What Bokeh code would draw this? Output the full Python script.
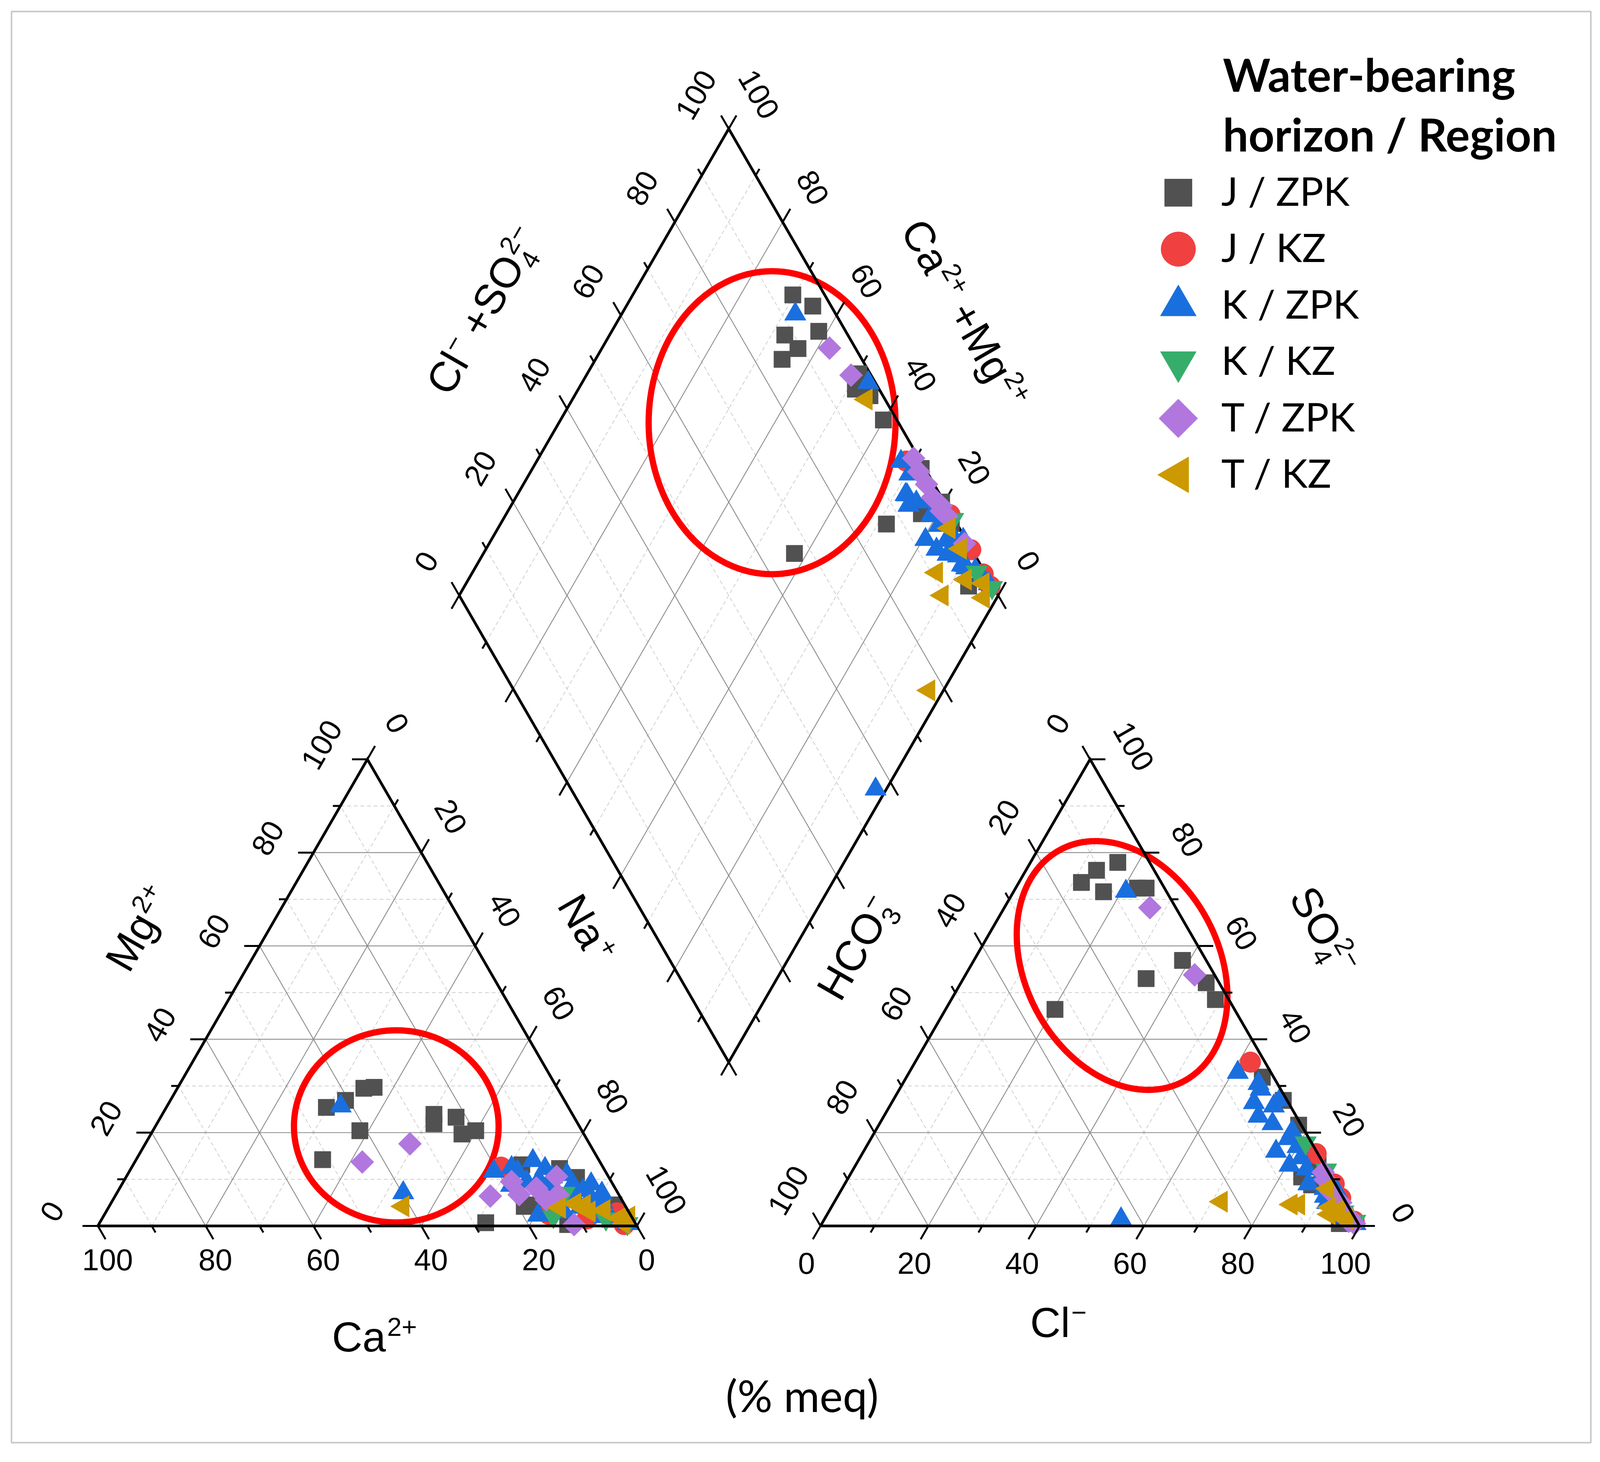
import math
from bokeh.plotting import figure
from bokeh.models import ColumnDataSource, Range1d
from bokeh.embed import file_html
from bokeh.resources import INLINE
from bokeh.core.properties import value

# ---------------- sample compositions (% meq) ----------------
# J / ZPK
JZPK_ca = [44.9, 35.9, 40.6, 41.2, 51.2, 33.9, 26.7, 21.9, 19.7, 22.6, 27.7, 25.7, 14.8, 8.2, 6.0, 18.8, 2.0, 12.7, 16.5]
JZPK_mg = [25.4, 29.5, 26.9, 20.4, 14.2, 29.7, 21.9, 23.3, 20.4, 19.7, 0.7, 23.9, 13.1, 12.3, 10.4, 4.2, 4.5, 0.3, 4.5]
JZPK_na = [29.7, 34.6, 32.5, 38.4, 34.6, 36.4, 51.4, 54.8, 59.9, 57.7, 71.6, 50.4, 72.1, 79.5, 83.6, 77.0, 93.5, 87.0, 79.0]
JZPK_hco3 = [5.9, 3.4, 11.7, 5.0, 14.8, 10.7, 4.4, 2.4, 2.5, 33.3, 13.1, 2.1, 0.7, 0.5, 1.0, 5.5, 4.5, 3.5, 2.0]
JZPK_cl = [16.2, 24.2, 16.7, 22.6, 11.6, 13.1, 38.7, 45.5, 49.0, 20.3, 33.9, 66.0, 72.4, 77.9, 85.6, 84.0, 86.7, 96.0, 95.0]
JZPK_so4 = [77.9, 72.4, 71.6, 72.4, 73.6, 76.2, 56.9, 52.1, 48.5, 46.4, 53.0, 31.9, 26.9, 21.6, 13.4, 10.5, 8.8, 0.5, 3.0]
# J / KZ
JKZ_ca = [18.9, 15.1, 2.3, 2.2, 8.5]
JKZ_mg = [12.6, 2.5, 2.8, 0.3, 1.5]
JKZ_na = [68.5, 82.4, 94.9, 97.5, 90.0]
JKZ_hco3 = [2.7, 0.3, 0.5, 0.5, 0.2]
JKZ_cl = [62.2, 84.2, 93.5, 98.5, 90.8]
JKZ_so4 = [35.1, 15.5, 6.0, 1.0, 9.0]
# K / ZPK
KZPK_ca = [42.1, 39.8, 20.7, 17.0, 16.3, 19.0, 12.3, 15.7, 10.9, 13.3, 10.5, 12.0, 17.2, 7.5, 7.45, 9.0, 12.0, 6.2, 4.0, 8.5, 5.5, 3.0, 5.9, 3.8, 5.0, 4.0, 1.5, 1.5]
KZPK_mg = [25.7, 7.1, 11.7, 12.5, 11.7, 8.7, 14.0, 9.5, 12.3, 9.8, 10.5, 8.1, 2.3, 11.0, 8.95, 6.5, 3.0, 7.6, 9.0, 4.0, 6.2, 7.0, 3.4, 5.1, 2.0, 1.0, 1.5, 0.5]
KZPK_na = [32.2, 53.1, 67.6, 70.5, 72.0, 72.3, 73.7, 74.8, 76.8, 76.9, 79.0, 79.9, 80.5, 81.5, 83.6, 84.5, 85.0, 86.2, 87.0, 87.5, 88.3, 90.0, 90.7, 91.1, 93.0, 95.0, 97.0, 98.0]
KZPK_hco3 = [7.5, 1.3, 3.7, 3.5, 6.4, 6.15, 7.0, 5.2, 3.05, 2.4, 3.85, 3.0, 7.5, 3.5, 6.5, 3.7, 2.05, 5.0, 2.5, 0.5, 3.25, 3.5, 2.9, 3.0, 1.5, 1.0, 0.5, 43.5]
KZPK_cl = [20.8, 71.7, 67.0, 66.0, 67.2, 60.95, 69.5, 72.9, 71.25, 77.4, 77.45, 80.0, 76.5, 81.9, 80.5, 84.1, 87.45, 86.0, 89.5, 92.2, 90.4, 91.5, 93.1, 94.0, 96.5, 98.0, 99.0, 55.0]
KZPK_so4 = [71.7, 27.0, 29.3, 30.5, 26.4, 32.9, 23.5, 21.9, 25.7, 20.2, 18.7, 17.0, 16.0, 14.6, 13.0, 12.2, 10.5, 9.0, 8.0, 7.3, 6.35, 5.0, 4.0, 3.0, 2.0, 1.0, 0.5, 1.5]
# K / KZ
KKZ_ca = [9.9, 14.5, 5.0, 1.5]
KKZ_mg = [7.0, 2.0, 1.5, 0.5]
KKZ_na = [83.1, 83.5, 93.5, 98.0]
KKZ_hco3 = [1.1, 0.2, 1.5, 0.3]
KKZ_cl = [81.1, 87.8, 95.5, 98.7]
KKZ_so4 = [17.8, 12.0, 3.0, 1.0]
# T / ZPK
TZPK_ca = [33.3, 44.1, 24.0, 18.5, 14.6, 9.6, 14.0, 11.3, 11.5, 18.5]
TZPK_mg = [17.6, 13.7, 6.4, 6.7, 8.1, 10.6, 5.6, 6.7, 0.3, 9.5]
TZPK_na = [49.1, 42.2, 69.6, 74.8, 77.3, 79.8, 80.4, 82.0, 88.2, 72.0]
TZPK_hco3 = [3.7, 4.8, 1.0, 1.4, 1.7, 1.0, 1.5, 1.0, 0.7, 1.5]
TZPK_cl = [42.5, 27.0, 87.5, 88.7, 90.9, 94.0, 95.0, 97.0, 98.8, 97.5]
TZPK_so4 = [53.8, 68.2, 11.5, 9.9, 7.4, 5.0, 3.5, 2.0, 0.5, 1.0]
# T / KZ
TKZ_ca = [41.3, 2.2, 9.1, 7.3, 4.4, 0.5, 12.4, 2.4, 7.5]
TKZ_mg = [4.2, 0.5, 4.8, 3.1, 3.4, 2.0, 3.9, 1.7, 4.5]
TKZ_na = [54.5, 97.3, 86.1, 89.6, 92.2, 97.5, 83.7, 95.9, 88.0]
TKZ_hco3 = [3.5, 23.05, 9.0, 10.4, 4.4, 3.0, 1.9, 1.5, 2.0]
TKZ_cl = [92.5, 71.75, 86.4, 85.0, 93.1, 94.5, 90.1, 97.0, 94.5]
TKZ_so4 = [4.0, 5.2, 4.6, 4.6, 2.5, 2.5, 8.0, 1.5, 3.5]

GROUP_LABELS = ["J / ZPK", "J / KZ", "K / ZPK", "K / KZ", "T / ZPK", "T / KZ"]
TICK_VALUES = list(range(0, 101, 10))
LABEL_VALUES = list(range(0, 101, 20))

# ---------------- geometry ----------------
H = math.sqrt(3) / 2
PX = 13.8                 # screen px per % unit
GAP = 34.06               # gap between the two triangles
XR0 = 100 + GAP           # origin of the anion triangle
XC = 100 + GAP / 2        # diamond centre x
YB = 30.4                 # diamond bottom vertex y

W, HT = 4096, 3720
BL, BT, BR_, BB = 29, 29, W - 4072, HT - 3694
ox, oy = 250, 3139        # figure pixel of cation-triangle bottom-left vertex
x0 = -(ox - BL) / PX
x1 = x0 + (W - BL - BR_) / PX
y0 = -((HT - BB) - oy) / PX
y1 = y0 + (HT - BT - BB) / PX


def page(X, Y):
    """reference page pixel -> data units"""
    return (X - 8 - ox) / PX, (oy - (Y - 8)) / PX


def cat_xy(ca, mg, na):
    t = ca + mg + na
    mg, na = 100 * mg / t, 100 * na / t
    return na + mg / 2, mg * H


def an_xy(hco3, cl, so4):
    t = hco3 + cl + so4
    cl, so4 = 100 * cl / t, 100 * so4 / t
    return XR0 + cl + so4 / 2, so4 * H


def dia_xy(na_pct, clso4_pct):
    cm = 100 - na_pct
    return XC + 0.5 * (clso4_pct - cm), YB + H * (clso4_pct + cm)


p = figure(width=W, height=HT, output_backend="svg", toolbar_location=None,
           x_range=Range1d(x0, x1), y_range=Range1d(y0, y1),
           x_axis_location=None, y_axis_location=None, title=None,
           min_border_left=BL, min_border_right=BR_, min_border_top=BT, min_border_bottom=BB)
p.grid.visible = False
p.outline_line_color = "#c8c8c8"
p.outline_line_width = 4
p.background_fill_color = "white"
p.border_fill_color = "white"

# ---------------- grid ----------------
sxs, sys_, dxs, dys = [], [], [], []


def gline(a, b, v):
    if v % 20 == 0:
        sxs.append([a[0], b[0]]); sys_.append([a[1], b[1]])
    else:
        dxs.append([a[0], b[0]]); dys.append([a[1], b[1]])


for v in range(10, 100, 10):
    gline(cat_xy(100 - v, v, 0), cat_xy(0, v, 100 - v), v)
    gline(cat_xy(100 - v, 0, v), cat_xy(0, 100 - v, v), v)
    gline(cat_xy(v, 0, 100 - v), cat_xy(v, 100 - v, 0), v)
    gline(an_xy(100 - v, 0, v), an_xy(0, 100 - v, v), v)
    gline(an_xy(100 - v, v, 0), an_xy(0, v, 100 - v), v)
    gline(an_xy(v, 100 - v, 0), an_xy(v, 0, 100 - v), v)
    gline(dia_xy(100 - v, 0), dia_xy(100 - v, 100), v)
    gline(dia_xy(0, v), dia_xy(100, v), v)

p.multi_line(dxs, dys, line_color="#cfcfcf", line_width=2, line_dash="10 7")
p.multi_line(sxs, sys_, line_color="#8a8a8a", line_width=2.2)

# ---------------- red highlight ellipses ----------------
ex, ey = page(1022, 2892)
p.ellipse(x=[ex], y=[ey], width=2 * 262 / PX, height=2 * 246 / PX, fill_color=None,
          line_color="#ff0000", line_width=16)
ex, ey = page(1984, 1090)
p.ellipse(x=[ex], y=[ey], width=2 * 316 / PX, height=2 * 388 / PX, fill_color=None,
          line_color="#ff0000", line_width=16)
ex, ey = page(2880, 2480)
p.ellipse(x=[ex], y=[ey], width=2 * 336 / PX, height=2 * 248 / PX, angle=math.radians(-62),
          fill_color=None, line_color="#ff0000", line_width=16)

# ---------------- ticks & tick labels ----------------
MAJ, MIN = 2.85, 1.4
LAB_DY = 0.6
tri_t = {"xs": [], "ys": []}
dia_t = {"xs": [], "ys": []}
labels = {"x": [], "y": [], "t": [], "a": []}


def ticks(store, fn, d, off=None, ang=0.0):
    for v in TICK_VALUES:
        x, y = fn(v)
        L = MAJ if v % 20 == 0 else MIN
        store["xs"].append([x, x + L * d[0]])
        store["ys"].append([y, y + L * d[1]])
        if off is not None and v in LABEL_VALUES:
            labels["x"].append(x + off[0]); labels["y"].append(y + off[1] + LAB_DY)
            labels["t"].append(str(v)); labels["a"].append(ang)


A60 = math.radians(60)
# cation triangle
ticks(tri_t, lambda v: cat_xy(v, 0, 100 - v), (0.5, -H), (1.8, -6.9), 0.0)
ticks(tri_t, lambda v: cat_xy(100 - v, v, 0), (-1, 0), (-8.5, 2.1), A60)
ticks(tri_t, lambda v: cat_xy(0, 100 - v, v), (0.5, H), (5.5, 6.1), -A60)
# anion triangle
ticks(tri_t, lambda v: an_xy(100 - v, v, 0), (-0.5, -H), (-2.6, -7.5), 0.0)
ticks(tri_t, lambda v: an_xy(v, 0, 100 - v), (-0.5, H), (-6.0, 6.0), A60)
ticks(tri_t, lambda v: an_xy(0, 100 - v, v), (1, 0), (8.1, 1.8), -A60)
# diamond
ticks(dia_t, lambda v: dia_xy(0, v), (-0.5, H), (-6.1, 5.7), A60)
ticks(dia_t, lambda v: dia_xy(100 - v, 100), (0.5, H), (5.6, 5.8), -A60)
ticks(dia_t, lambda v: dia_xy(100 - v, 0), (-0.5, -H))
ticks(dia_t, lambda v: dia_xy(100, v), (0.5, -H))

AX = dict(line_color="black", line_width=7, line_join="miter")
# diamond frame (under markers)
dpts = [dia_xy(0, 0), dia_xy(0, 100), dia_xy(100, 100), dia_xy(100, 0), dia_xy(0, 0)]
p.multi_line(dia_t["xs"], dia_t["ys"], line_color="black", line_width=5)
p.line([q[0] for q in dpts], [q[1] for q in dpts], **AX)

# ---------------- samples ----------------
GROUPS = [
    (JZPK_ca, JZPK_mg, JZPK_na, JZPK_hco3, JZPK_cl, JZPK_so4),
    (JKZ_ca, JKZ_mg, JKZ_na, JKZ_hco3, JKZ_cl, JKZ_so4),
    (KZPK_ca, KZPK_mg, KZPK_na, KZPK_hco3, KZPK_cl, KZPK_so4),
    (KKZ_ca, KKZ_mg, KKZ_na, KKZ_hco3, KKZ_cl, KKZ_so4),
    (TZPK_ca, TZPK_mg, TZPK_na, TZPK_hco3, TZPK_cl, TZPK_so4),
    (TKZ_ca, TKZ_mg, TKZ_na, TKZ_hco3, TKZ_cl, TKZ_so4),
]
STYLES = [
    dict(marker="square", color="#515151", size=42, angle=0.0),
    dict(marker="circle", color="#F14040", size=53, angle=0.0),
    dict(marker="triangle", color="#1A6FDF", size=55, angle=0.0),
    dict(marker="inverted_triangle", color="#37AD6B", size=55, angle=0.0),
    dict(marker="square", color="#B177DE", size=42, angle=math.pi / 4),
    dict(marker="triangle", color="#CC9900", size=55, angle=math.pi / 2),
]

for (ca, mg, na, hc, cl, so), st in zip(GROUPS, STYLES):
    xs, ys = [], []
    for i in range(len(ca)):
        a = cat_xy(ca[i], mg[i], na[i])
        b = an_xy(hc[i], cl[i], so[i])
        na_pct = 100 * na[i] / (ca[i] + mg[i] + na[i])
        clso4 = 100 * (cl[i] + so[i]) / (hc[i] + cl[i] + so[i])
        c = dia_xy(na_pct, clso4)
        for q in (a, b, c):
            xs.append(q[0]); ys.append(q[1])
    src = ColumnDataSource(dict(x=xs, y=ys))
    p.scatter("x", "y", source=src, marker=st["marker"], size=st["size"], angle=st["angle"],
              fill_color=st["color"], line_color=st["color"], line_width=1)

# ---------------- triangle frames (over markers) ----------------
p.multi_line(tri_t["xs"], tri_t["ys"], line_color="black", line_width=5)
for fn in (cat_xy, an_xy):
    pts = [fn(100, 0, 0), fn(0, 0, 100), fn(0, 100, 0), fn(100, 0, 0)]
    p.line([q[0] for q in pts], [q[1] for q in pts], **AX)

p.text(x="x", y="y", text="t", angle="a", source=ColumnDataSource(labels),
       text_font=value("Liberation Sans"), text_font_size="78px",
       text_align="center", text_baseline="middle", text_color="black")

# ---------------- axis titles with super/subscripts ----------------
AW = {"C": 722, "a": 556, "l": 222, "M": 833, "g": 556, "N": 722, "H": 722, "O": 778,
      "S": 667, "+": 584, "2": 556, "3": 556, "4": 556, "\u2212": 584}


def tw(s, f):
    return sum(AW.get(ch, 556) for ch in s) * f / 1000.0


rich = {"x": [], "y": [], "t": [], "a": [], "fs": []}


def rich_label(segs, X, Y, ang, F=108.0):
    ss = 0.62 * F
    items = []
    u = 0.0
    for seg in segs:
        kind = seg[0]
        if kind == "n":
            items.append((u, 0.0, seg[1], F)); u += tw(seg[1], F)
        elif kind == "gap":
            u += seg[1] * F
        elif kind == "sup":
            u += 0.03 * F
            items.append((u, 0.42 * F, seg[1], ss)); u += tw(seg[1], ss)
        elif kind == "subsup":
            items.append((u, -0.17 * F, seg[1], ss))
            items.append((u + 0.05 * F, 0.42 * F, seg[2], ss))
            u += max(tw(seg[1], ss), tw(seg[2], ss) + 0.05 * F)
    cx, cy = page(X, Y)
    ca_, sa_ = math.cos(ang), math.sin(ang)
    for (uu, vb, txt, f) in items:
        uu -= u / 2.0
        vv = vb - 0.358 * F + 0.49 * f
        rich["x"].append(cx + (uu * ca_ - vv * sa_) / PX)
        rich["y"].append(cy + (uu * sa_ + vv * ca_) / PX)
        rich["t"].append(txt); rich["a"].append(ang); rich["fs"].append("%.1fpx" % f)


M = "\u2212"
rich_label([("n", "Mg"), ("sup", "2+")], 375, 2392, A60)
rich_label([("n", "Na"), ("sup", "+")], 1497, 2392, -A60)
rich_label([("n", "Ca"), ("sup", "2+")], 966, 3445, 0.0)
rich_label([("n", "HCO"), ("subsup", "3", M)], 2210, 2442, A60)
rich_label([("n", "SO"), ("subsup", "4", "2" + M)], 3385, 2397, -A60)
rich_label([("n", "Cl"), ("sup", M)], 2717, 3408, 0.0)
rich_label([("n", "Cl"), ("sup", M), ("gap", 0.25), ("n", "+SO"), ("subsup", "4", "2" + M)],
           1257, 810, A60)
rich_label([("n", "Ca"), ("sup", "2+"), ("gap", 0.25), ("n", "+Mg"), ("sup", "2+")],
           2465, 818, -A60)

p.text(x="x", y="y", text="t", angle="a", text_font_size="fs", source=ColumnDataSource(rich),
       text_font=value("Liberation Sans"), text_align="left", text_baseline="middle",
       text_color="black")

mx, my = page(2061, 3580)
p.text(x=[mx], y=[my], text=["(% meq)"], text_font=value("Lato"), text_font_size="112px",
       text_align="center", text_baseline="middle", text_color="black")

# ---------------- legend ----------------
tx, ty = page(3138, 198)
p.text(x=[tx], y=[ty], text=["Water-bearing"], text_font=value("Lato"), text_font_style="bold",
       text_font_size="116px", text_align="left", text_baseline="alphabetic")
tx, ty = page(3138, 351)
p.text(x=[tx], y=[ty], text=["horizon / Region"], text_font=value("Lato"), text_font_style="bold",
       text_font_size="116px", text_align="left", text_baseline="alphabetic")
LEG_SCALE = 1.67
for i, (lab, st) in enumerate(zip(GROUP_LABELS, STYLES)):
    rowY = 501 + 144.5 * i
    mxx, myy = page(3024, rowY)
    p.scatter([mxx], [myy], marker=st["marker"], size=st["size"] * LEG_SCALE, angle=st["angle"],
              fill_color=st["color"], line_color=st["color"])
    lx, ly = page(3134, rowY - 6)
    p.text(x=[lx], y=[ly], text=[lab], text_font=value("Lato"), text_font_size="101px",
           text_align="left", text_baseline="alphabetic", text_color="black")

open("out.html", "w").write(file_html(p, INLINE))
